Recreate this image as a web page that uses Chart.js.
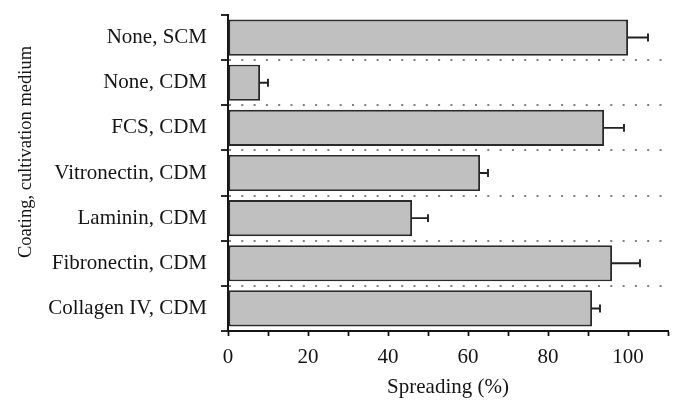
<!DOCTYPE html>
<html>
<head>
<meta charset="utf-8">
<script src="https://cdn.jsdelivr.net/npm/chart.js@4"></script>
<style>
html,body{margin:0;padding:0;background:#fff;}
#c{display:block;}
</style>
</head>
<body>
<canvas id="c" width="683" height="412"></canvas>
<script>
const categories = ['None, SCM', 'None, CDM', 'FCS, CDM', 'Vitronectin, CDM', 'Laminin, CDM', 'Fibronectin, CDM', 'Collagen IV, CDM'];
const spreading = [100, 8, 94, 63, 46, 96, 91];
const spreadingErr = [5, 2, 5, 2, 4, 7, 2];
const xTickValues = [0, 20, 40, 60, 80, 100];
const xTitle = 'Spreading (%)';
const yTitle = 'Coating, cultivation medium';

const FONT = 'Liberation Serif, Times New Roman, serif';
const INK = '#151515';

const errorBars = {
  id: 'errorBars',
  afterDatasetsDraw(chart) {
    const ctx = chart.ctx;
    const xs = chart.scales.x;
    const meta = chart.getDatasetMeta(0);
    ctx.save();
    ctx.strokeStyle = '#222';
    ctx.lineWidth = 1.9;
    meta.data.forEach((el, i) => {
      const x1 = xs.getPixelForValue(spreading[i]);
      const x2 = xs.getPixelForValue(spreading[i] + spreadingErr[i]);
      const cap = el.height * 0.11;
      ctx.beginPath();
      ctx.moveTo(x1, el.y);
      ctx.lineTo(x2, el.y);
      ctx.moveTo(x2, el.y - cap);
      ctx.lineTo(x2, el.y + cap);
      ctx.stroke();
    });
    ctx.restore();
  }
};

const yAxisTitle = {
  id: 'yAxisTitle',
  afterDraw(chart) {
    const ctx = chart.ctx;
    const a = chart.chartArea;
    ctx.save();
    ctx.translate(26.5, (a.top + a.bottom) / 2 - 21);
    ctx.rotate(-Math.PI / 2);
    ctx.font = '18.5px ' + FONT;
    ctx.fillStyle = INK;
    ctx.textAlign = 'center';
    ctx.textBaseline = 'middle';
    ctx.fillText(yTitle, 0, 0);
    ctx.restore();
  }
};

new Chart(document.getElementById('c'), {
  type: 'bar',
  data: {
    labels: categories,
    datasets: [{
      data: spreading,
      backgroundColor: '#c0c0c0',
      borderColor: '#2a2a2a',
      borderWidth: 1.9,
      borderSkipped: false,
      barPercentage: 0.8,
      categoryPercentage: 1.0
    }]
  },
  options: {
    indexAxis: 'y',
    responsive: false,
    animation: false,
    devicePixelRatio: 1,
    layout: { padding: { top: 15, right: 15, left: 0, bottom: 0 } },
    plugins: { legend: { display: false }, tooltip: { enabled: false } },
    scales: {
      x: {
        min: 0,
        max: 110,
        afterFit: (s) => { s.height = 81; },
        afterBuildTicks: (s) => {
          const t = [];
          for (let v = 0; v <= 110; v += 10) t.push({ value: v });
          s.ticks = t;
        },
        ticks: {
          autoSkip: false,
          maxRotation: 0,
          padding: 9,
          color: INK,
          font: { family: FONT, size: 21 },
          callback: (v) => xTickValues.includes(v) ? String(v) : ''
        },
        grid: {
          drawOnChartArea: false,
          drawTicks: true,
          tickLength: 5,
          tickColor: INK,
          tickWidth: 1.8
        },
        border: { display: true, color: INK, width: 2 },
        title: {
          display: true,
          text: xTitle,
          color: INK,
          font: { family: FONT, size: 21 },
          padding: { top: 0, bottom: 12 }
        }
      },
      y: {
        afterFit: (s) => { s.width = 228; s.paddingTop = 0; s.paddingBottom = 0; },
        ticks: {
          padding: 14,
          color: INK,
          font: { family: FONT, size: 21 }
        },
        grid: {
          offset: true,
          drawTicks: true,
          tickLength: 7,
          tickColor: INK,
          tickWidth: 1.8,
          lineWidth: 2,
          color: (ctx) => (ctx.index === 0 ? 'rgba(0,0,0,0)' : '#808080')
        },
        border: { display: true, color: INK, width: 2, dash: [2, 10.3] }
      }
    }
  },
  plugins: [errorBars, yAxisTitle]
});
</script>
</body>
</html>
